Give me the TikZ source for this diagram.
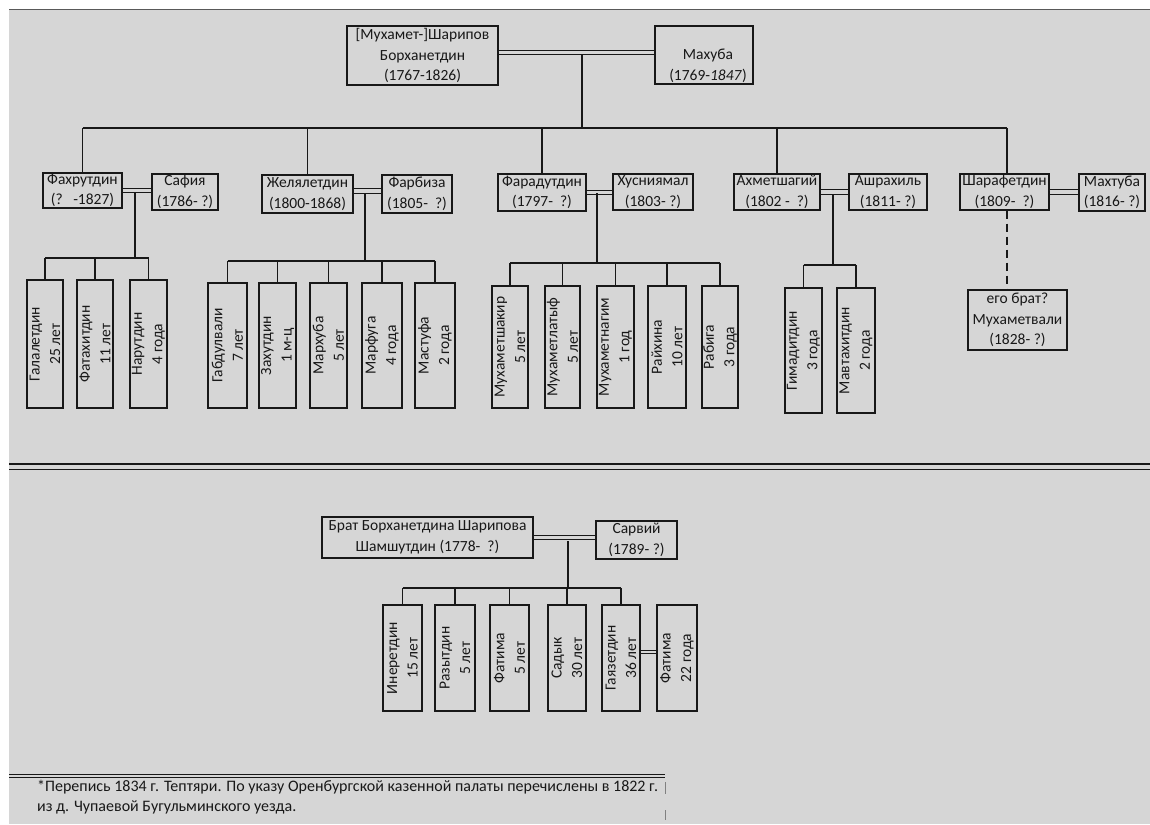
\documentclass[tikz,border=0pt]{standalone}
\usepackage{fontspec}
\setmainfont{Carlito}
\definecolor{paper}{RGB}{214,214,214}
\definecolor{ink}{RGB}{24,24,24}
\tikzset{
  pbox/.style={draw=ink, line width=1.3pt, inner sep=0pt, rectangle},
  ptxt/.style={text=ink, font=\fontsize{15.5}{20.5}\selectfont, align=center, inner sep=0pt},
  ctxt/.style={ptxt, rotate=90},
  link/.style={draw=ink, line width=1.2pt},
  marr/.style={draw=ink, double=paper, double distance=3.2pt, line width=1.1pt},
  fnote/.style={text=ink, font=\fontsize{16}{20}\selectfont, inner sep=0pt, anchor=base west},
}
% name, x1, y1, x2, y2, dx, dy, text
\newcommand\pbx[8]{%
  \node[pbox, minimum width={(#4)-(#2)}, minimum height={(#5)-(#3)}] (#1) at ({((#2)+(#4))/2},{((#3)+(#5))/2}) {};
  \node[ptxt] (#1t) at ({((#2)+(#4))/2+(#6)},{((#3)+(#5))/2+(#7)}) {#8};}
% name, x1, y1, x2, y2, text (rotated)
\newcommand\cbx[6]{%
  \node[pbox, minimum width={(#4)-(#2)}, minimum height={(#5)-(#3)}] (#1) at ({((#2)+(#4))/2},{((#3)+(#5))/2}) {};
  \node[ctxt] (#1t) at (#1.center) {#6};}
\begin{document}
\begin{tikzpicture}[x=1pt,y=-1pt]
\useasboundingbox (0,0) rectangle (1150,824);
\fill[white] (0,0) rectangle (1150,824);
\fill[paper] (9,9) rectangle (1150,824);
\draw[gray!70!black, line width=1pt] (9,9.5) -- (1150,9.5);

% ---------- top couple ----------
\pbx{p0}{347}{26}{498}{85}{0}{0}{[Мухамет-]Шарипов\\Борханетдин\\(1767-1826)}
\pbx{p0w}{655}{26}{753}{84}{4}{11}{Махуба\\(1769-\textit{1847})}
\draw[marr] ([yshift=3pt]p0.east) -- ([yshift=3pt]p0.east -| p0w.west);
\coordinate (m0) at (582,55);
\coordinate (busL) at (82.5,128);
\coordinate (busR) at (1007,128);
\draw[link] (m0) -- (m0 |- busL);
\draw[link] (busL) -- (busR);

% ---------- family A ----------
\pbx{fa}{43}{173}{122}{208}{0}{0}{Фахрутдин\\(?\ \ \ -1827)}
\pbx{fw}{152}{174}{218}{210}{0}{0}{Сафия\\(1786- ?)}
\draw[link] (fa.north |- busL) -- (fa.north);
\draw[marr] (fa.east) -- (fa.east -| fw.west);
\coordinate (ma) at (135,193);
\coordinate (ba) at (135,258);
\draw[link] (ma) -- (ba);
\cbx{a1}{27}{280}{63}{408}{Галалетдин\\25 лет}
\cbx{a2}{77}{280}{113}{408}{Фатахитдин\\11 лет}
\cbx{a3}{130}{280}{167}{408}{Нарутдин\\4 года}
\draw[link] (a1.north |- ba) -- (a3.north |- ba);
\foreach \c in {a1,a2,a3} \draw[link] (\c.north |- ba) -- (\c.north);

% ---------- family B ----------
\pbx{fb}{262}{175}{353}{213}{0}{0}{Желялетдин\\(1800-1868)}
\pbx{fbw}{382}{175}{452}{213}{0}{0}{Фарбиза\\(1805-\ \ ?)}
\draw[link] (fb.north |- busL) -- (fb.north);
\draw[marr] ([yshift=3pt]fb.east) -- ([yshift=3pt]fb.east -| fbw.west);
\coordinate (mb) at (365,193);
\coordinate (bb) at (365,261);
\draw[link] (mb) -- (bb);
\cbx{b1}{208}{283}{247}{408}{Габдулвали\\7 лет}
\cbx{b2}{259}{283}{296}{408}{Захутдин\\1 м-ц}
\cbx{b3}{310}{283}{347}{408}{Мархуба\\5 лет}
\cbx{b4}{362}{283}{402}{408}{Марфуга\\4 года}
\cbx{b5}{415}{283}{455}{408}{Мастуфа\\2 года}
\draw[link] (b1.north |- bb) -- (b5.north |- bb);
\foreach \c in {b1,b2,b3,b4,b5} \draw[link] (\c.north |- bb) -- (\c.north);

% ---------- family C ----------
\pbx{fc}{498}{174}{586}{211}{0}{0}{Фарадутдин\\(1797-\ \ ?)}
\pbx{fcw}{613}{174}{693}{210}{0}{0}{Хусниямал\\(1803- ?)}
\draw[link] (fc.north |- busL) -- (fc.north);
\draw[marr] (fc.east) -- (fc.east -| fcw.west);
\coordinate (mc) at (597,193);
\coordinate (bc) at (597,263);
\draw[link] (mc) -- (bc);
\cbx{c1}{492}{286}{528}{408}{Мухаметшакир\\5 лет}
\cbx{c2}{545}{286}{580}{408}{Мухаметлатыф\\5 лет}
\cbx{c3}{597}{286}{634}{408}{Мухаметнагим\\1 год}
\cbx{c4}{648}{286}{686}{408}{Райхина\\10 лет}
\cbx{c5}{702}{286}{738}{408}{Рабига\\3 года}
\draw[link] (c1.north |- bc) -- (c5.north |- bc);
\foreach \c in {c1,c2,c3,c4,c5} \draw[link] (\c.north |- bc) -- (\c.north);

% ---------- family D ----------
\pbx{fd}{734}{174}{820}{210}{0}{0}{Ахметшагий\\(1802 -\ \ ?)}
\pbx{fdw}{849}{174}{927}{210}{0}{0}{Ашрахиль\\(1811- ?)}
\draw[link] (fd.north |- busL) -- (fd.north);
\draw[marr] (fd.east) -- (fd.east -| fdw.west);
\coordinate (md) at (833,195);
\coordinate (bd) at (833,265);
\draw[link] (md) -- (bd);
\cbx{d1}{785}{288}{822}{413}{Гимадитдин\\3 года}
\cbx{d2}{837}{288}{875}{413}{Мавтахитдин\\2 года}
\draw[link] (d1.north |- bd) -- (d2.north |- bd);
\foreach \c in {d1,d2} \draw[link] (\c.north |- bd) -- (\c.north);

% ---------- family E ----------
\pbx{fe}{960}{174}{1049}{210}{0}{0}{Шарафетдин\\(1809-\ \ ?)}
\pbx{few}{1079}{174}{1145}{211}{0}{0}{Махтуба\\(1816- ?)}
\draw[link] (busR) -- (busR |- fe.north);
\draw[marr] (fe.east) -- (fe.east -| few.west);
\pbx{br}{968}{290}{1067}{350}{0}{0}{его брат?\\Мухаметвали\\(1828- ?)}
\draw[link, dash pattern=on 8pt off 5pt] (busR |- fe.south) -- (busR |- br.north);

% ---------- separator ----------
\coordinate (sepL) at (9,466.5);
\coordinate (sepR) at (1150,466.5);
\draw[draw=ink, double=paper, double distance=4pt, line width=1.5pt] (sepL) -- (sepR);

% ---------- brother ----------
\pbx{s0}{322}{517}{533}{558}{0}{0}{Брат Борханетдина Шарипова\\Шамшутдин (1778-\ \ ?)}
\pbx{s0w}{596}{521}{677}{559}{0}{0}{Сарвий\\(1789- ?)}
\draw[marr] (s0.east) -- (s0.east -| s0w.west);
\coordinate (ms) at (568,541);
\coordinate (bs) at (568,588);
\draw[link] (ms) -- (bs);
\cbx{s1}{383}{605}{422}{711}{Инеретдин\\15 лет}
\cbx{s2}{435}{605}{475}{711}{Разытдин\\5 лет}
\cbx{s3}{490}{605}{529}{711}{Фатима\\5 лет}
\cbx{s4}{548}{605}{586}{711}{Садык\\30 лет}
\cbx{s5}{602}{605}{640}{711}{Гаязетдин\\36 лет}
\cbx{s6}{657}{605}{697}{711}{Фатима\\22 года}
\draw[link] (s1.north |- bs) -- (s5.north |- bs);
\foreach \c in {s1,s2,s3,s4,s5} \draw[link] (\c.north |- bs) -- (\c.north);
\draw[draw=ink, double=paper, double distance=2.4pt, line width=1.1pt] ([yshift=6pt]s5.east) -- ([yshift=6pt]s5.east -| s6.west);

% ---------- footnote ----------
\coordinate (fnL) at (9,776);
\coordinate (fnR) at (665,776);
\draw[draw=ink, double=paper, double distance=2.4pt, line width=1.2pt] (fnL) -- (fnR);
\node[fnote] (fn1) at (37,791) {*Перепись 1834 г. Тептяри. По указу Оренбургской казенной палаты перечислены в 1822 г.};
\node[fnote] (fn2) at (37,811) {из д. Чупаевой Бугульминского уезда.};
\draw[gray, line width=0.6pt] (665,782) -- (665,794);
\draw[gray, line width=0.6pt] (665,810) -- (665,820);
\end{tikzpicture}
\end{document}
